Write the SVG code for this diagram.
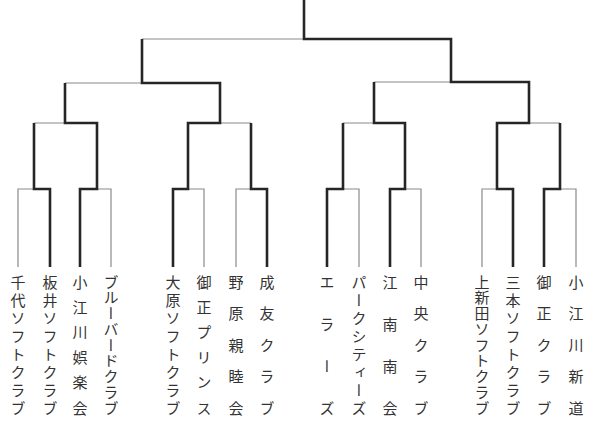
<svg xmlns="http://www.w3.org/2000/svg" width="593" height="421" viewBox="0 0 593 421">
<style>
.thin{fill:none;stroke:#8a8a8a;stroke-width:1.2}
.thick{fill:none;stroke:#262626;stroke-width:2.6;stroke-linejoin:miter;stroke-linecap:butt}
text{font-family:"Noto Sans CJK JP","Noto Sans CJK SC",sans-serif;font-size:15px;fill:#333;writing-mode:vertical-rl;text-anchor:middle}
</style>
<rect width="593" height="421" fill="#fff"/>
<g id="connectors">
<path class="thin" d="M142,39 H304 M65,83 H142 M34,123 H65 M220,123 H251 M18,267 V189 H34 M97,189 H111 V267 M188,189 H204 V267 M236,267 V189 H251 M374,82 H451 M343,123 H374 M529,123 H560 M343,189 H359 V267 M405,189 H421 V267 M482,267 V189 H497 M560,189 H576 V267"/>
<path class="thick" d="M304,0 V39 H451 V82 H529 V123 H497 V189 H513 V267 M142,39 V83 H220 V123 H188 V189 H173 V267 M65,83 V123 H97 V189 H80 V267 M34,123 V189 H50 V267 M251,123 V189 H267 V267 M374,82 V123 H405 V189 H390 V267 M343,123 V189 H327 V267 M560,123 V189 H544 V267"/>
</g>
<g id="team1"><text x="18" y="282 300 318 336 354 372 390 408">千代ソフトクラブ</text></g>
<g id="team2"><text x="50" y="282 300 318 336 354 372 390 408">板井ソフトクラブ</text></g>
<g id="team3"><text x="80" y="282 307.2 332.4 357.6 382.8 408">小江川娯楽会</text></g>
<g id="team4"><text x="111" y="282 297.75 313.5 329.25 345 360.75 376.5 392.25 408">ブルーバードクラブ</text></g>
<g id="team5"><text x="173" y="282 300 318 336 354 372 390 408">大原ソフトクラブ</text></g>
<g id="team6"><text x="204" y="282 307.2 332.4 357.6 382.8 408">御正プリンス</text></g>
<g id="team7"><text x="236" y="282 313.5 345 376.5 408">野原親睦会</text></g>
<g id="team8"><text x="267" y="282 313.5 345 376.5 408">成友クラブ</text></g>
<g id="team9"><text x="327" y="282 324 366 408">エラーズ</text></g>
<g id="team10"><text x="359" y="282 300 318 336 354 372 390 408">パークシティーズ</text></g>
<g id="team11"><text x="390" y="282 324 366 408">江南南会</text></g>
<g id="team12"><text x="421" y="282 313.5 345 376.5 408">中央クラブ</text></g>
<g id="team13"><text x="482" y="282 297.75 313.5 329.25 345 360.75 376.5 392.25 408">上新田ソフトクラブ</text></g>
<g id="team14"><text x="513" y="282 300 318 336 354 372 390 408">三本ソフトクラブ</text></g>
<g id="team15"><text x="544" y="282 313.5 345 376.5 408">御正クラブ</text></g>
<g id="team16"><text x="576" y="282 313.5 345 376.5 408">小江川新道</text></g>
</svg>
